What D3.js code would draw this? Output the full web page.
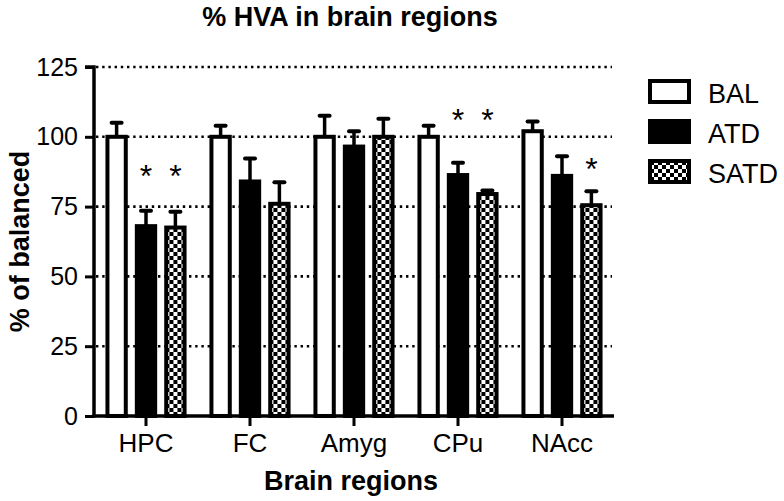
<!DOCTYPE html>
<html>
<head>
<meta charset="utf-8">
<script src="https://cdn.jsdelivr.net/npm/d3@7"></script>
<style>
  body { margin: 0; background: #fff; }
  svg { display: block; font-family: 'Liberation Sans', Arial, Helvetica, sans-serif; }
</style>
</head>
<body>
<svg width="784" height="501"></svg>
<script>
// Chart data
const regions = ['HPC', 'FC', 'Amyg', 'CPu', 'NAcc'];
const groups = ['BAL', 'ATD', 'SATD'];
const balMean = [100, 100, 100, 100, 102];
const balErr = [5, 4, 7.5, 4, 3.5];
const atdMean = [68, 84, 96.5, 86.3, 86];
const atdErr = [5.5, 8.2, 5.5, 4.4, 7];
const satdMean = [67.5, 76, 100, 79.5, 75.5];
const satdErr = [5.7, 7.7, 6.5, 1.3, 5];
const yTicks = [0, 25, 50, 75, 100, 125];
// significance stars: [region, group, y position in axis units]
const stars = [
  ['HPC', 'ATD', 87.5], ['HPC', 'SATD', 87.5],
  ['CPu', 'ATD', 107.5], ['CPu', 'SATD', 107.5],
  ['NAcc', 'SATD', 90],
];

const margin = {top: 67, right: 170, bottom: 85, left: 94};
const svg = d3.select('svg');
const width = +svg.attr('width');
const height = +svg.attr('height');

// Checkerboard fill for SATD
const defs = svg.append('defs');
const pat = defs.append('pattern')
    .attr('id', 'checker')
    .attr('patternUnits', 'userSpaceOnUse')
    .attr('width', 8)
    .attr('height', 8);
pat.append('rect').attr('width', 8).attr('height', 8).attr('fill', '#fff');
pat.append('rect').attr('width', 4).attr('height', 4).attr('fill', '#000');
pat.append('rect').attr('x', 4).attr('y', 4).attr('width', 4).attr('height', 4).attr('fill', '#000');

const fills = {BAL: '#fff', ATD: '#000', SATD: 'url(#checker)'};

const rows = regions.map((r, i) => ({
  region: r,
  values: [
    {group: 'BAL', mean: balMean[i], err: balErr[i]},
    {group: 'ATD', mean: atdMean[i], err: atdErr[i]},
    {group: 'SATD', mean: satdMean[i], err: satdErr[i]},
  ],
}));

const x0 = d3.scaleBand()
    .domain(regions)
    .range([margin.left, width - margin.right])
    .paddingInner(0.22)
    .paddingOuter(0.11);

const x1 = d3.scaleBand()
    .domain(groups)
    .range([0, x0.bandwidth()])
    .paddingInner(0.24);

const y = d3.scaleLinear()
    .domain([0, 125])
    .range([height - margin.bottom, margin.top]);

// Dotted grid lines
svg.append('g')
    .attr('class', 'grid')
  .selectAll('line')
  .data(yTicks.filter((d) => d > 0))
  .join('line')
    .attr('x1', margin.left + 2)
    .attr('x2', width - margin.right - 2)
    .attr('y1', (d) => y(d))
    .attr('y2', (d) => y(d))
    .attr('stroke', '#000')
    .attr('stroke-width', 2.6)
    .attr('stroke-dasharray', '2.4,3.8');

// Bars
const groupG = svg.append('g')
  .selectAll('g')
  .data(rows)
  .join('g')
    .attr('transform', (d) => `translate(${x0(d.region)},0)`);

// Error bars (upper only)
groupG.selectAll('line.err')
  .data((d) => d.values)
  .join('line')
    .attr('class', 'err')
    .attr('x1', (d) => x1(d.group) + x1.bandwidth() / 2)
    .attr('x2', (d) => x1(d.group) + x1.bandwidth() / 2)
    .attr('y1', (d) => y(d.mean))
    .attr('y2', (d) => y(d.mean + d.err))
    .attr('stroke', '#000')
    .attr('stroke-width', 3.5);

groupG.selectAll('line.cap')
  .data((d) => d.values)
  .join('line')
    .attr('class', 'cap')
    .attr('x1', (d) => x1(d.group) + x1.bandwidth() / 2 - 5)
    .attr('x2', (d) => x1(d.group) + x1.bandwidth() / 2 + 5)
    .attr('y1', (d) => y(d.mean + d.err))
    .attr('y2', (d) => y(d.mean + d.err))
    .attr('stroke', '#000')
    .attr('stroke-width', 4)
    .attr('stroke-linecap', 'round');

groupG.selectAll('rect')
  .data((d) => d.values)
  .join('rect')
    .attr('x', (d) => x1(d.group) + 2)
    .attr('width', x1.bandwidth() - 4)
    .attr('y', (d) => y(d.mean))
    .attr('height', (d) => y(0) - y(d.mean))
    .attr('fill', (d) => fills[d.group])
    .attr('stroke', '#000')
    .attr('stroke-width', 4);

// Significance stars
svg.append('g')
  .selectAll('text')
  .data(stars)
  .join('text')
    .attr('x', (d) => x0(d[0]) + x1(d[1]) + x1.bandwidth() / 2)
    .attr('y', (d) => y(d[2]) + 15)
    .attr('text-anchor', 'middle')
    .attr('font-size', 32)
    .text('*');

// Axes
const yAxis = d3.axisLeft(y)
    .tickValues(yTicks)
    .tickSize(9)
    .tickSizeOuter(0)
    .tickPadding(7);

svg.append('g')
    .attr('transform', `translate(${margin.left},0)`)
    .call(yAxis)
    .call((g) => g.select('.domain').attr('stroke-width', 3.5).attr('d', `M0,${y(0) + 1.5}V${y(125)}h-9`))
    .call((g) => g.selectAll('.tick line').attr('stroke-width', 3))
    .call((g) => g.selectAll('.tick text')
      .attr('font-size', 25)
      .attr('font-family', null)
      .attr('fill', '#000'));

const xAxis = d3.axisBottom(x0)
    .tickSize(10)
    .tickSizeOuter(0)
    .tickPadding(8);

svg.append('g')
    .attr('transform', `translate(0,${y(0)})`)
    .call(xAxis)
    .call((g) => g.select('.domain').attr('stroke-width', 3.5)
      .attr('d', `M${margin.left - 1.5},0H${width - margin.right}`))
    .call((g) => g.selectAll('.tick line').attr('stroke-width', 3))
    .call((g) => g.selectAll('.tick text')
      .attr('font-size', 26)
      .attr('font-family', null)
      .attr('fill', '#000'));

// Titles
svg.append('text')
    .attr('x', 350)
    .attr('y', 26)
    .attr('text-anchor', 'middle')
    .attr('font-weight', 'bold')
    .attr('font-size', 27)
    .text('% HVA in brain regions');

svg.append('text')
    .attr('x', 351)
    .attr('y', 490)
    .attr('text-anchor', 'middle')
    .attr('font-weight', 'bold')
    .attr('font-size', 27)
    .text('Brain regions');

svg.append('text')
    .attr('transform', `translate(29,${(y(0) + y(125)) / 2}) rotate(-90)`)
    .attr('text-anchor', 'middle')
    .attr('font-weight', 'bold')
    .attr('font-size', 27)
    .text('% of balanced');

// Legend
const legend = svg.append('g')
    .attr('transform', 'translate(650,81)')
  .selectAll('g')
  .data(groups)
  .join('g')
    .attr('transform', (d, i) => `translate(0,${i * 40})`);

legend.append('rect')
    .attr('width', 39)
    .attr('height', 21)
    .attr('fill', (d) => fills[d])
    .attr('stroke', '#000')
    .attr('stroke-width', 4);

legend.append('text')
    .attr('x', 58)
    .attr('y', 22)
    .attr('font-size', 27)
    .text((d) => d);
</script>
</body>
</html>
